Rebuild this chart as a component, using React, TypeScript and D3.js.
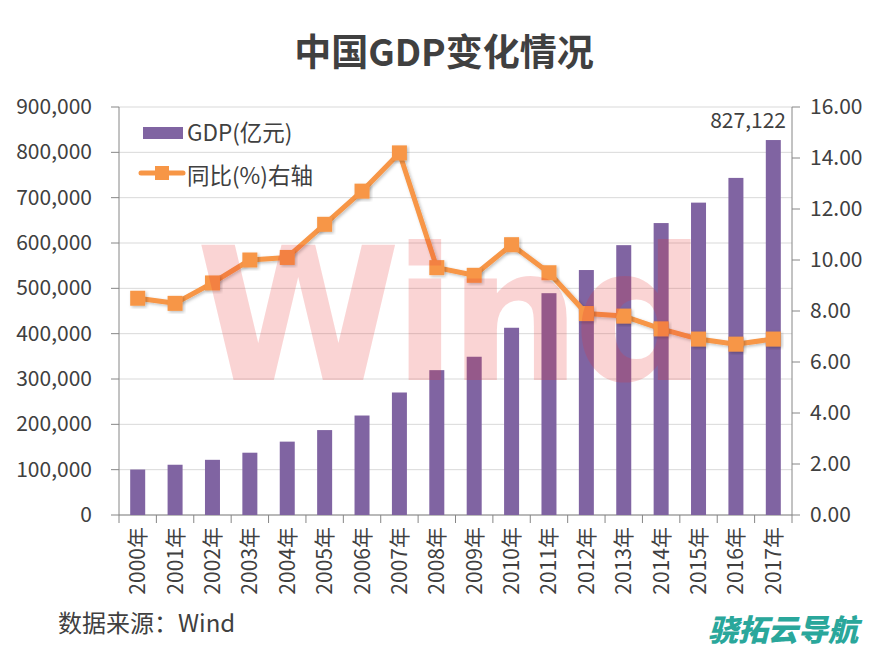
import React from "react";
import * as d3 from "d3";

const years = ["2000年","2001年","2002年","2003年","2004年","2005年","2006年","2007年","2008年","2009年","2010年","2011年","2012年","2013年","2014年","2015年","2016年","2017年"];
const gdp = [100280,110863,121717,137422,161840,187319,219439,270232,319516,349081,413030,489301,540367,595244,643974,689052,743586,827122];
const growth = [8.5,8.3,9.1,10.0,10.1,11.4,12.7,14.2,9.7,9.4,10.6,9.5,7.9,7.8,7.3,6.9,6.7,6.9];
const leftTicks = [0,100000,200000,300000,400000,500000,600000,700000,800000,900000];
const rightTicks = [0,2,4,6,8,10,12,14,16];

const W = 886, H = 651;
const L = 119, R = 792, T = 107, B = 515;
const FONT = "'Noto Sans CJK SC', 'Microsoft YaHei', sans-serif";
const TXT = "#404040";

export default function App() {
  const x = d3.scaleBand<string>().domain(years).range([L, R]).padding(0);
  const yL = d3.scaleLinear().domain([0, 900000]).range([B, T]);
  const yR = d3.scaleLinear().domain([0, 16]).range([B, T]);
  const bw = 15;
  const cx = (d: string) => (x(d) as number) + x.bandwidth() / 2;
  const line = d3.line<number>().x((_, i) => cx(years[i])).y(v => yR(v));
  const fmt = d3.format(",");
  const ms = 15;
  return (
    <svg width={W} height={H} style={{ position: "absolute", left: 0, top: 0, background: "#fff" }} fontFamily={FONT}>
      <defs>
        <filter id="sh" x="-20%" y="-20%" width="140%" height="140%">
          <feDropShadow dx="1.5" dy="1.5" stdDeviation="1.5" floodColor="#000" floodOpacity="0.25" />
        </filter>
      </defs>
      <rect width={W} height={H} fill="#fff" />
      <text x={444} y={66} textAnchor="middle" fontSize={37} fontWeight={700} fill={TXT}>中国GDP变化情况</text>
      {leftTicks.map(t => (
        <line key={"g" + t} x1={L} x2={R} y1={yL(t)} y2={yL(t)} stroke="#d9d9d9" strokeWidth={1} />
      ))}
      {leftTicks.map(t => (
        <g key={"l" + t}>
          <line x1={L - 8} x2={L} y1={yL(t)} y2={yL(t)} stroke="#868686" />
          <text x={92} y={yL(t) + 7} textAnchor="end" fontSize={21} fill={TXT}>{fmt(t)}</text>
        </g>
      ))}
      {rightTicks.map(t => (
        <g key={"r" + t}>
          <line x1={R} x2={R + 8} y1={yR(t)} y2={yR(t)} stroke="#868686" />
          <text x={810} y={yR(t) + 7} textAnchor="start" fontSize={21} fill={TXT}>{t.toFixed(2)}</text>
        </g>
      ))}
      <line x1={L} x2={L} y1={T} y2={B} stroke="#868686" />
      <line x1={R} x2={R} y1={T} y2={B} stroke="#868686" />
      <line x1={L} x2={R} y1={B} y2={B} stroke="#868686" />
      {years.map((y, i) => (
        <line key={"xt" + i} x1={x(y) as number} x2={x(y) as number} y1={B} y2={B + 8} stroke="#868686" />
      ))}
      <line x1={R} x2={R} y1={B} y2={B + 8} stroke="#868686" />
      {years.map((y, i) => (
        <text key={"xl" + i} transform={`translate(${cx(y) + 7.5},${B + 12}) rotate(-90)`} textAnchor="end" fontSize={21} fill={TXT}>{y}</text>
      ))}
      {gdp.map((v, i) => (
        <rect key={"b" + i} x={cx(years[i]) - bw / 2} y={yL(v)} width={bw} height={B - yL(v)} fill="#8064a2" />
      ))}
      <path d={line(growth) || ""} fill="none" stroke="#f79646" strokeWidth={5} strokeLinejoin="round" filter="url(#sh)" />
      {growth.map((v, i) => (
        <rect key={"m" + i} x={cx(years[i]) - ms / 2} y={yR(v) - ms / 2} width={ms} height={ms} fill="#f79646" filter="url(#sh)" />
      ))}
      <text x={447} y={380} textAnchor="middle" fontSize={186} fontWeight={700} fill="#e8302f" opacity={0.2} fontFamily="'DejaVu Sans', sans-serif" letterSpacing={-8}>Wind</text>
      <text x={786} y={128} textAnchor="end" fontSize={21} fill={TXT}>{fmt(gdp[gdp.length - 1])}</text>
      <rect x={143} y={127} width={40} height={12} fill="#8064a2" />
      <text x={187} y={141} fontSize={22.5} fill={TXT}>GDP(亿元)</text>
      <line x1={141} x2={183} y1={173} y2={173} stroke="#f79646" strokeWidth={5} strokeLinecap="round" />
      <rect x={155} y={166} width={14} height={14} fill="#f79646" />
      <text x={187} y={184} fontSize={22.5} fill={TXT}>同比(%)右轴</text>
      <text x={58} y={632} fontSize={24} fill={TXT}>数据来源：Wind</text>
      <text x={708} y={641} fontSize={30} fontWeight={900} fontStyle="italic" fill="#2aa79b">骁拓云导航</text>
    </svg>
  );
}
